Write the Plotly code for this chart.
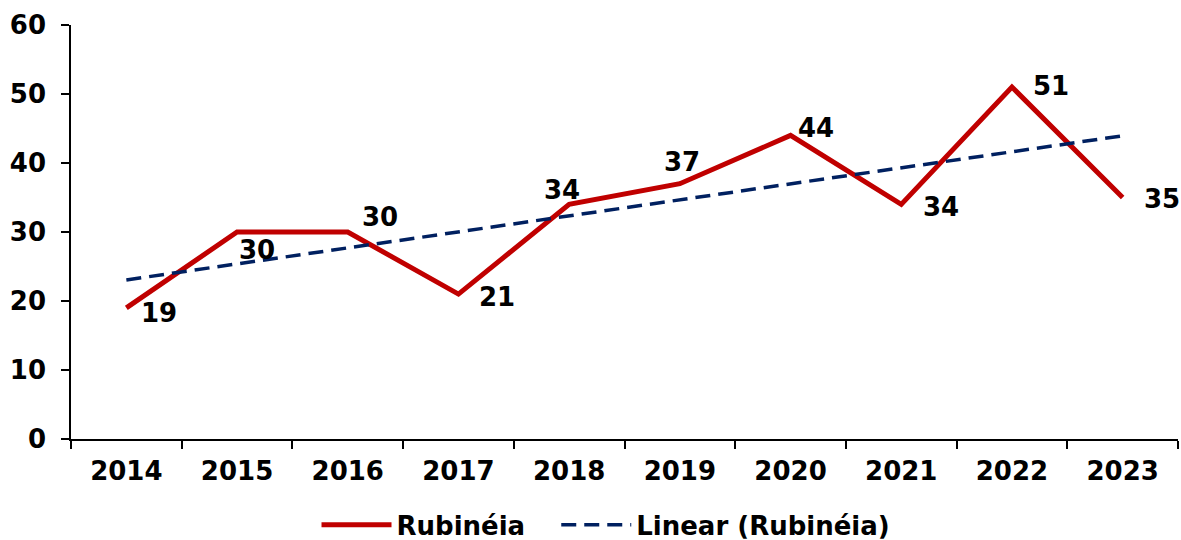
import numpy as np
import plotly.graph_objects as go

years = ['2014', '2015', '2016', '2017', '2018', '2019', '2020', '2021', '2022', '2023']
rubineia = [19, 30, 30, 21, 34, 37, 44, 34, 51, 35]

# label offsets in px (x, y) relative to each point
label_shift = [(33, -5), (20, -18), (32, 15), (39, -3), (-7, 14),
               (2, 22), (25, 7), (40, -3), (39, 1), (39, -1)]

# linear trend line of the series (least squares, like Excel's "Linear" trendline)
idx = np.arange(len(rubineia))
slope, intercept = np.polyfit(idx, rubineia, 1)
trend = intercept + slope * idx

font_main = dict(family="DejaVu Sans", size=26, color="black", weight="bold")

fig = go.Figure()

fig.add_trace(go.Scatter(
    x=years, y=rubineia, name='Rubinéia', mode='lines',
    line=dict(color='#C00000', width=5), legend='legend'
))

fig.add_trace(go.Scatter(
    x=years, y=trend, name='Linear (Rubinéia)', mode='lines',
    line=dict(color='#002060', width=3.5, dash='15px,8px'), legend='legend2'
))

# category axes want the category index for annotations
for i, (val, (dx, dy)) in enumerate(zip(rubineia, label_shift)):
    fig.add_annotation(
        x=i, y=val, xref='x', yref='y', text=str(val),
        showarrow=False, xshift=dx, yshift=dy, font=font_main
    )

# two legends so the gap between the entries can be set like the original
legend_style = dict(orientation='h', xref='container', yref='container',
                    xanchor='left', y=0.028, yanchor='middle',
                    itemwidth=70, font=font_main, bgcolor='rgba(0,0,0,0)')

fig.update_layout(
    width=1181, height=540,
    margin=dict(l=71, r=3, t=25, b=101),
    plot_bgcolor='white', paper_bgcolor='white',
    font=font_main,
    showlegend=True,
    legend=dict(legend_style, x=0.268),
    legend2=dict(legend_style, x=0.471),
)

fig.update_xaxes(
    type='category', range=[-0.5, 9.5], automargin=False,
    showline=True, linecolor='black', linewidth=1.5,
    ticks='outside', tickson='boundaries', ticklen=8, tickcolor='black', tickwidth=1.5,
    ticklabelstandoff=8, showgrid=False, tickfont=font_main
)
fig.update_yaxes(
    range=[0, 60], dtick=10, automargin=False,
    showline=True, linecolor='black', linewidth=1.5,
    ticks='outside', ticklen=8, tickcolor='black', tickwidth=1.5,
    ticklabelstandoff=10, showgrid=False, zeroline=False, tickfont=font_main
)

fig.write_html("out.html", config={'displayModeBar': False},
               post_script="document.body.style.margin='0';")
